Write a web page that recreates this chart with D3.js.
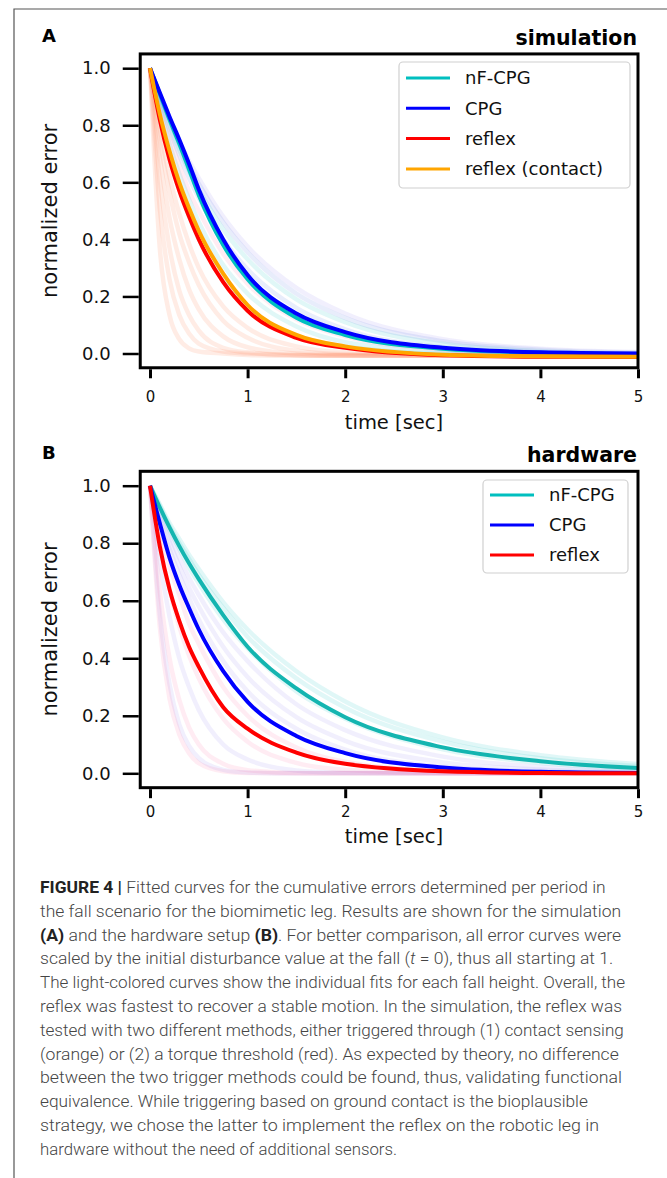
<!DOCTYPE html>
<html>
<head>
<meta charset="utf-8">
<script src="https://cdn.jsdelivr.net/npm/d3@7"></script>
<style>
  body { margin: 0; background: #fff; }
  svg { display: block; }
</style>
</head>
<body>
<div id="chart"></div>
<script>
// sample times (sec) shared by every curve
const times = [0, 0.1, 0.2, 0.3, 0.4, 0.5, 0.75, 1, 1.5, 2, 3, 4, 5];

// panel A - simulation, mean fits
const simNfCpg   = [1, .91, .82, .735, .645, .555, .38, .26, .125, .065, .017, .003, -.002];
const simCpg     = [1, .915, .83, .75, .665, .575, .40, .275, .14, .075, .02, .004, 0];
const simReflex  = [1, .82, .68, .57, .48, .40, .25, .15, .055, .02, -.006, -.011, -.012];
const simContact = [1, .84, .71, .60, .51, .43, .28, .17, .065, .025, -.004, -.01, -.011];

// panel A - individual fits (light curves)
const simFaint = [
  {c: "orange", v: [1, .37, .135, .05, .018, .007, 0, -.005, -.008, -.008, -.008, -.008, -.008]},
  {c: "orange", v: [1, .51, .26, .135, .07, .035, .007, 0, -.006, -.008, -.008, -.008, -.008]},
  {c: "orange", v: [1, .61, .37, .22, .135, .08, .02, .004, -.005, -.007, -.008, -.008, -.008]},
  {c: "orange", v: [1, .69, .475, .33, .225, .155, .06, .022, 0, -.005, -.007, -.008, -.008]},
  {c: "orange", v: [1, .75, .565, .42, .32, .24, .115, .055, .01, -.002, -.006, -.007, -.008]},
  {c: "orange", v: [1, .79, .62, .49, .385, .30, .165, .09, .025, .004, -.004, -.006, -.007]},
  {c: "cyan",   v: [1, .83, .695, .58, .48, .40, .255, .16, .063, .024, 0, -.004, -.005]},
  {c: "cyan",   v: [1, .86, .735, .63, .54, .46, .31, .21, .095, .04, .006, -.002, -.004]},
  {c: "pink",   v: [1, .87, .76, .66, .57, .50, .35, .245, .12, .06, .013, 0, -.003]},
  {c: "blue",   v: [1, .885, .785, .695, .615, .545, .40, .295, .16, .085, .022, .004, -.002]},
  {c: "cyan",   v: [1, .895, .80, .715, .64, .575, .435, .33, .19, .11, .034, .009, 0]},
  {c: "blue",   v: [1, .90, .815, .735, .66, .595, .46, .355, .21, .125, .043, .013, .003]},
  {c: "violet", v: [1, .905, .825, .745, .675, .615, .48, .375, .23, .14, .05, .017, .005]}
];

// panel B - hardware, mean fits
const hwNfCpg  = [1, .925, .855, .79, .73, .675, .55, .44, .295, .195, .09, .042, .018];
const hwCpg    = [1, .87, .75, .655, .575, .50, .355, .248, .13, .07, .02, .005, .001];
const hwReflex = [1, .79, .64, .53, .44, .37, .23, .155, .072, .033, .007, .001, 0];

// panel B - individual fits
const hwFaint = [
  {c: "cyan",   v: [1, .935, .87, .815, .76, .71, .595, .50, .355, .25, .125, .063, .032]},
  {c: "cyan",   v: [1, .93, .86, .80, .745, .69, .575, .475, .33, .228, .11, .052, .025]},
  {c: "cyan",   v: [1, .92, .845, .78, .715, .66, .535, .435, .285, .19, .083, .036, .015]},
  {c: "violet", v: [1, .91, .83, .75, .68, .62, .49, .39, .24, .15, .058, .022, .008]},
  {c: "violet", v: [1, .90, .805, .72, .645, .58, .44, .335, .195, .113, .038, .013, .004]},
  {c: "violet", v: [1, .88, .78, .69, .61, .535, .39, .285, .155, .082, .023, .006, .002]},
  {c: "pink",   v: [1, .85, .72, .62, .52, .45, .30, .20, .09, .04, .008, .002, 0]},
  {c: "pink",   v: [1, .80, .64, .51, .41, .33, .19, .11, .036, .012, .001, 0, 0]},
  {c: "violet", v: [1, .74, .545, .40, .30, .22, .10, .048, .01, .002, 0, 0, 0]},
  {c: "pink",   v: [1, .635, .40, .255, .16, .10, .033, .011, .001, 0, 0, 0, 0]},
  {c: "violet", v: [1, .555, .31, .17, .095, .053, .012, .003, 0, 0, 0, 0, 0]},
  {c: "pink",   v: [1, .51, .26, .135, .07, .035, .007, .001, 0, 0, 0, 0, 0]}
];

const xTicks = [0, 1, 2, 3, 4, 5];
const yTicks = [0, 0.2, 0.4, 0.6, 0.8, 1.0];

const captionLines = [
  [["b", "FIGURE 4 | "], ["n", "Fitted curves for the cumulative errors determined per period in"]],
  [["n", "the fall scenario for the biomimetic leg. Results are shown for the simulation"]],
  [["b", "(A)"], ["n", " and the hardware setup "], ["b", "(B)"], ["n", ". For better comparison, all error curves were"]],
  [["n", "scaled by the initial disturbance value at the fall ("], ["i", "t"], ["n", " = 0), thus all starting at 1."]],
  [["n", "The light-colored curves show the individual fits for each fall height. Overall, the"]],
  [["n", "reflex was fastest to recover a stable motion. In the simulation, the reflex was"]],
  [["n", "tested with two different methods, either triggered through (1) contact sensing"]],
  [["n", "(orange) or (2) a torque threshold (red). As expected by theory, no difference"]],
  [["n", "between the two trigger methods could be found, thus, validating functional"]],
  [["n", "equivalence. While triggering based on ground contact is the bioplausible"]],
  [["n", "strategy, we chose the latter to implement the reflex on the robotic leg in"]],
  [["n", "hardware without the need of additional sensors."]]
];
const captionEnds = [606, 621, 621, 613, 625, 622, 624, 619, 622, 588, 599, 397];

const faintColor = {orange: "#ff7f50", cyan: "#00bfbf", pink: "#ff6699", blue: "#4169e1", violet: "#8a7cf0"};
const faintOpacity = {orange: 0.15, cyan: 0.12, pink: 0.12, blue: 0.12, violet: 0.12};

const W = 667, H = 1178;
const font = "DejaVu Sans";

const svg = d3.select("#chart").append("svg")
  .attr("width", W).attr("height", H)
  .attr("viewBox", `0 0 ${W} ${H}`);

// page frame (top and left edge)
svg.append("path")
  .attr("d", `M14,${H} V9 H${W}`)
  .attr("fill", "none").attr("stroke", "#555").attr("stroke-width", 1.2);

function drawPanel(opt) {
  const x = d3.scaleLinear().domain([0, 5]).range([150, 638]);
  const y = d3.scaleLinear().domain([0, 1]).range(opt.yRange);
  const g = svg.append("g");
  const clipId = "clip" + opt.letter;

  const left = x(-0.1), right = x(5), top = y(1.05), bottom = y(-0.05);

  g.append("clipPath").attr("id", clipId)
    .append("rect").attr("x", left).attr("y", top)
    .attr("width", right - left).attr("height", bottom - top);

  const line = d3.line()
    .x((d, i) => x(times[i]))
    .y(d => y(d))
    .curve(d3.curveMonotoneX);

  const plot = g.append("g").attr("clip-path", `url(#${clipId})`);

  opt.faint.forEach(f => {
    plot.append("path")
      .datum(f.v)
      .attr("d", line)
      .attr("fill", "none")
      .attr("stroke", faintColor[f.c])
      .attr("stroke-opacity", faintOpacity[f.c])
      .attr("stroke-width", 4.5);
  });

  opt.main.forEach(m => {
    plot.append("path")
      .datum(m.v)
      .attr("d", line)
      .attr("fill", "none")
      .attr("stroke", m.color)
      .attr("stroke-width", 4)
      .attr("stroke-linejoin", "round");
  });

  // axes
  const yAxis = d3.axisLeft(y).tickValues(yTicks).tickFormat(d3.format(".1f"))
    .tickSize(16).tickPadding(12);
  const ya = g.append("g").attr("transform", `translate(${left - 1.5},0)`).call(yAxis);
  ya.select(".domain").remove();
  ya.selectAll(".tick line").attr("stroke", "#000").attr("stroke-width", 2.5);
  ya.selectAll(".tick text").attr("font-family", font).attr("font-size", 18).attr("fill", "#111");

  const xAxis = d3.axisBottom(x).tickValues(xTicks).tickFormat(d3.format("d"))
    .tickSize(9).tickPadding(opt.xTickPad);
  const xa = g.append("g").attr("transform", `translate(0,${bottom + 1.5})`).call(xAxis);
  xa.select(".domain").remove();
  xa.selectAll(".tick line").attr("stroke", "#000").attr("stroke-width", 3);
  xa.selectAll(".tick text").attr("font-family", font).attr("font-size", 15).attr("fill", "#111");

  // spines
  g.append("rect")
    .attr("x", left).attr("y", top)
    .attr("width", right - left).attr("height", bottom - top)
    .attr("fill", "none").attr("stroke", "#000").attr("stroke-width", 3);

  // labels
  g.append("text")
    .attr("transform", `translate(57,${(top + bottom) / 2}) rotate(-90)`)
    .attr("text-anchor", "middle")
    .attr("font-family", font).attr("font-size", 21).attr("fill", "#111")
    .text("normalized error");

  g.append("text")
    .attr("x", (x(0) + x(5)) / 2).attr("y", bottom + opt.xLabelOffset)
    .attr("text-anchor", "middle")
    .attr("font-family", font).attr("font-size", 19.5).attr("fill", "#111")
    .text("time [sec]");

  g.append("text")
    .attr("x", 42).attr("y", opt.titleY - 3)
    .attr("font-family", font).attr("font-weight", "bold").attr("font-size", 18)
    .text(opt.letter);

  g.append("text")
    .attr("x", 637).attr("y", opt.titleY)
    .attr("text-anchor", "end")
    .attr("font-family", font).attr("font-weight", "bold").attr("font-size", 20.5)
    .text(opt.title);

  // legend
  const lg = opt.legend;
  g.append("rect")
    .attr("x", lg.x).attr("y", lg.y).attr("width", lg.w).attr("height", lg.h)
    .attr("rx", 4).attr("fill", "#fff").attr("fill-opacity", 0.85)
    .attr("stroke", "#d0d0d0").attr("stroke-width", 1.2);
  opt.main.slice().sort((a, b) => a.order - b.order).forEach((m, i) => {
    const ly = lg.y + lg.first + i * lg.step;
    g.append("line")
      .attr("x1", lg.x + 7).attr("x2", lg.x + 51)
      .attr("y1", ly).attr("y2", ly)
      .attr("stroke", m.legendColor || m.color).attr("stroke-width", 3);
    g.append("text")
      .attr("x", lg.x + 66).attr("y", ly).attr("dy", "0.36em")
      .attr("font-family", font).attr("font-size", 18).attr("fill", "#111")
      .text(m.name);
  });
}

drawPanel({
  letter: "A", title: "simulation", titleY: 45,
  yRange: [353.5, 68.2], xLabelOffset: 61, xTickPad: 13,
  faint: simFaint,
  main: [
    {name: "nF-CPG", v: simNfCpg, color: "#00bfbf", order: 0},
    {name: "CPG", v: simCpg, color: "#0000ff", order: 1},
    {name: "reflex", v: simReflex, color: "#ff0000", order: 2},
    {name: "reflex (contact)", v: simContact, color: "#ffa500", order: 3}
  ],
  legend: {x: 399, y: 62, w: 231, h: 126, first: 16, step: 30.3}
});

drawPanel({
  letter: "B", title: "hardware", titleY: 462,
  yRange: [773.3, 485.7], xLabelOffset: 55, xTickPad: 8,
  faint: hwFaint,
  main: [
    {name: "nF-CPG", v: hwNfCpg, color: "#14b5b0", legendColor: "#00bfbf", order: 0},
    {name: "CPG", v: hwCpg, color: "#0000ff", order: 1},
    {name: "reflex", v: hwReflex, color: "#ff0000", order: 2}
  ],
  legend: {x: 483, y: 480, w: 145, h: 93, first: 15, step: 30}
});

// caption, each line squeezed to the width it has in the figure
const cap = svg.append("g");
captionLines.forEach((parts, i) => {
  const t = cap.append("text")
    .attr("x", 0).attr("y", 0)
    .attr("font-family", "Roboto, 'Liberation Sans', sans-serif")
    .attr("font-size", 17.2).attr("font-weight", 300).attr("fill", "#454545");
  parts.forEach(p => {
    const s = t.append("tspan").text(p[1]);
    if (p[0] === "b") s.attr("font-weight", "bold").attr("fill", "#222");
    if (p[0] === "i") s.attr("font-style", "italic");
  });
  const len = t.node().getComputedTextLength();
  const sx = (captionEnds[i] - 40) / len;
  t.attr("transform", `translate(40,${893 + i * 23.8}) scale(${sx},1)`);
});
</script>
</body>
</html>
